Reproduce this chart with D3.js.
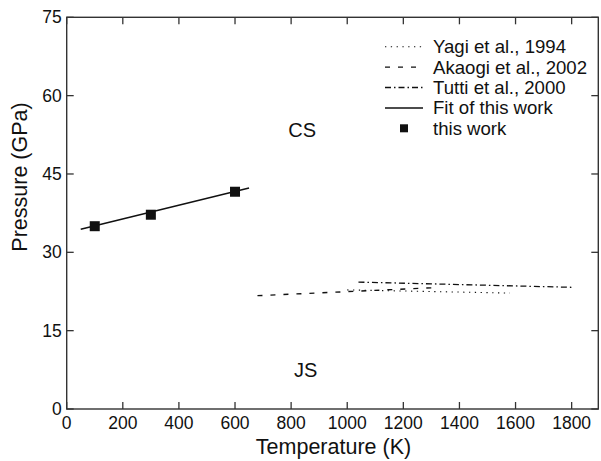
<!DOCTYPE html>
<html>
<head>
<meta charset="utf-8">
<script src="https://cdn.jsdelivr.net/npm/d3@7"></script>
<style>
  body { margin: 0; background: #fff; }
  svg text { font-family: "Liberation Sans", Arial, Helvetica, sans-serif; fill: #111; }
  .frame { fill: none; stroke: #333; stroke-width: 1.4; }
  .tick-line { stroke: #333; stroke-width: 1.3; }
</style>
</head>
<body>
<div id="chart"></div>
<script>
// --- data ---
const xTicks = [0, 200, 400, 600, 800, 1000, 1200, 1400, 1600, 1800];
const yTicks = [0, 15, 30, 45, 60, 75];

const thisWorkT = [100, 300, 600];
const thisWorkP = [35.0, 37.2, 41.6];

const fitT = [50, 650];
const fitP = [34.4, 42.3];

const yagiT = [1000, 1580];
const yagiP = [22.8, 22.2];

const akaogiT = [680, 1300];
const akaogiP = [21.7, 23.2];

const tuttiT = [1040, 1800];
const tuttiP = [24.3, 23.3];

const legendLabels = ["Yagi et al., 1994", "Akaogi et al., 2002", "Tutti et al., 2000", "Fit of this work", "this work"];

// --- layout ---
const W = 601, H = 461;
const m = { left: 66.7, right: 601 - 598.3, top: 17.3, bottom: 461 - 409 };

const svg = d3.select("#chart").append("svg")
  .attr("width", W).attr("height", H);

const x = d3.scaleLinear().domain([0, 1895]).range([m.left, W - m.right]);
const y = d3.scaleLinear().domain([0, 75]).range([H - m.bottom, m.top]);

const tickLen = 7;

// ticks on all four sides, pointing inward
const g = svg.append("g");
xTicks.forEach(t => {
  g.append("line").attr("class", "tick-line")
    .attr("x1", x(t)).attr("x2", x(t)).attr("y1", y(0)).attr("y2", y(0) - tickLen);
  g.append("line").attr("class", "tick-line")
    .attr("x1", x(t)).attr("x2", x(t)).attr("y1", y(75)).attr("y2", y(75) + tickLen);
  g.append("text").attr("x", x(t)).attr("y", y(0) + 20)
    .attr("text-anchor", "middle").attr("font-size", 17.5).text(t);
});
yTicks.forEach(t => {
  g.append("line").attr("class", "tick-line")
    .attr("x1", x(0)).attr("x2", x(0) + tickLen).attr("y1", y(t)).attr("y2", y(t));
  g.append("line").attr("class", "tick-line")
    .attr("x1", x(1895)).attr("x2", x(1895) - tickLen).attr("y1", y(t)).attr("y2", y(t));
  g.append("text").attr("x", x(0) - 5).attr("y", y(t) + 6)
    .attr("text-anchor", "end").attr("font-size", 17.5).text(t);
});

svg.append("rect").attr("class", "frame")
  .attr("x", x(0)).attr("y", y(75))
  .attr("width", x(1895) - x(0)).attr("height", y(0) - y(75));

// axis titles
svg.append("text").attr("x", 333.5).attr("y", 454)
  .attr("text-anchor", "middle").attr("font-size", 21.5).text("Temperature (K)");
svg.append("text")
  .attr("transform", `translate(27,177) rotate(-90)`)
  .attr("text-anchor", "middle").attr("font-size", 21.5).text("Pressure (GPa)");

// phase labels
svg.append("text").attr("x", x(790)).attr("y", y(52)).attr("font-size", 20).text("CS");
svg.append("text").attr("x", x(810)).attr("y", y(6.1)).attr("font-size", 20).text("JS");

// lines
const line = d3.line().x(d => x(d[0])).y(d => y(d[1]));
const series = [
  { T: yagiT, P: yagiP, dash: "1.3,4.5", w: 1.1 },
  { T: akaogiT, P: akaogiP, dash: "5,8", w: 1.4 },
  { T: tuttiT, P: tuttiP, dash: "6,3,1.5,3", w: 1.3 },
  { T: fitT, P: fitP, dash: null, w: 1.5 }
];
series.forEach(s => {
  svg.append("path")
    .datum(d3.zip(s.T, s.P))
    .attr("d", line)
    .attr("fill", "none").attr("stroke", "#111")
    .attr("stroke-width", s.w)
    .attr("stroke-dasharray", s.dash);
});

// this work points
const sq = 10;
svg.append("g").selectAll("rect")
  .data(d3.zip(thisWorkT, thisWorkP))
  .join("rect")
  .attr("x", d => x(d[0]) - sq / 2).attr("y", d => y(d[1]) - sq / 2)
  .attr("width", sq).attr("height", sq).attr("fill", "#111");

// legend
const leg = svg.append("g");
const ly0 = 46.7, lstep = 20.4;
legendLabels.forEach((lab, i) => {
  const yy = ly0 + i * lstep;
  if (i < 4) {
    const s = series[i];
    leg.append("line")
      .attr("x1", 385).attr("x2", 423).attr("y1", yy).attr("y2", yy)
      .attr("stroke", "#111").attr("stroke-width", s.w)
      .attr("stroke-dasharray", s.dash);
  } else {
    leg.append("rect").attr("x", 400).attr("y", yy - 4).attr("width", 8).attr("height", 8)
      .attr("fill", "#111");
  }
  leg.append("text").attr("x", 433).attr("y", yy + 6.5).attr("font-size", 18.6).text(lab);
});
</script>
</body>
</html>
